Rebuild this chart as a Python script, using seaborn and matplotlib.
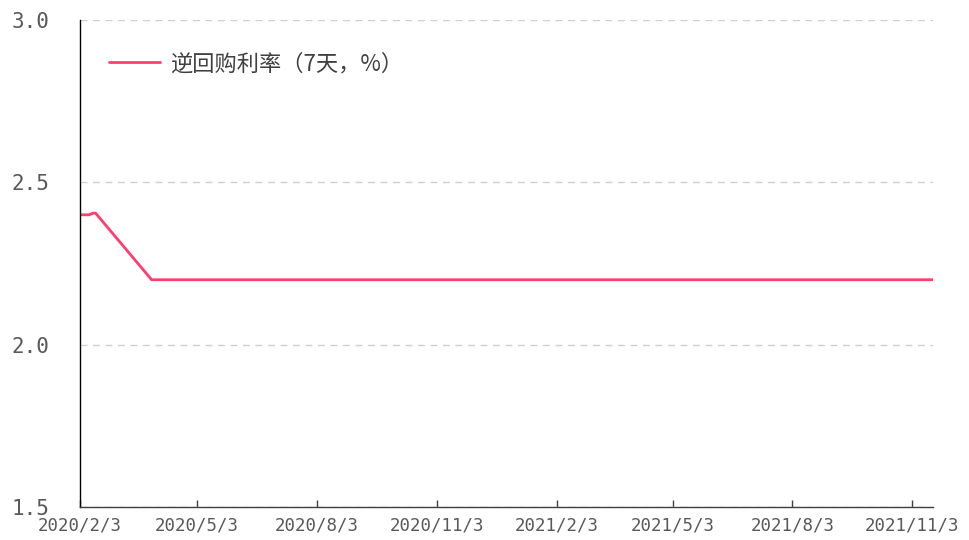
import pandas as pd
import matplotlib
matplotlib.use("Agg")
import matplotlib.pyplot as plt
import seaborn as sns

# 逆回购利率（7天，%）
dates = ["2020-02-03", "2020-02-10", "2020-02-13", "2020-02-15", "2020-03-29", "2021-11-19"]
rates = [2.40, 2.40, 2.405, 2.405, 2.20, 2.20]
tick_dates = ["2020-02-03", "2020-05-03", "2020-08-03", "2020-11-03",
              "2021-02-03", "2021-05-03", "2021-08-03", "2021-11-03"]
y_ticks = [1.5, 2.0, 2.5, 3.0]

df = pd.DataFrame({"date": pd.to_datetime(dates), "rate": rates})

sns.set_theme(style="white")
plt.rcParams["font.family"] = ["Noto Sans CJK SC", "DejaVu Sans"]

fig = plt.figure(figsize=(9.7, 5.4), dpi=100)
ax = fig.add_axes([80 / 970, 33 / 540, 853 / 970, 487 / 540])

sns.lineplot(data=df, x="date", y="rate", ax=ax, color="#FF3D6E", linewidth=2,
             label="逆回购利率（7天，%）")

ax.set_xlim(pd.Timestamp("2020-02-03"), pd.Timestamp("2021-11-19"))
ax.set_ylim(1.5, 3.0)
ax.set_yticks(y_ticks)
ax.set_yticklabels([f"{v:.1f}" for v in y_ticks], family="DejaVu Sans Mono")
ticks = pd.to_datetime(tick_dates)
ax.set_xticks(ticks)
ax.set_xticklabels([f"{d.year}/{d.month}/{d.day}" for d in ticks], family="DejaVu Sans Mono")
ax.set_xlabel("")
ax.set_ylabel("")

ax.yaxis.grid(True, linestyle=(0, (5, 4)), color="#D0D0D0", linewidth=1)
ax.xaxis.grid(False)
for s in ["top", "right"]:
    ax.spines[s].set_visible(False)
ax.spines["left"].set_color("#000000")
ax.spines["left"].set_linewidth(1)
ax.spines["bottom"].set_color("#404040")
ax.spines["bottom"].set_linewidth(1)

ax.tick_params(axis="x", direction="in", length=5, width=1, color="#404040",
               labelsize=12.5, labelcolor="#595959", pad=7, bottom=True)
ax.tick_params(axis="y", length=0, labelsize=15, labelcolor="#595959", pad=22)

leg = ax.legend(loc="upper left", bbox_to_anchor=(0.01, 0.975), frameon=False,
                fontsize=16, handlelength=2.3, handletextpad=0.45)
for t in leg.get_texts():
    t.set_color("#404040")

fig.savefig("out.png", dpi=100)
